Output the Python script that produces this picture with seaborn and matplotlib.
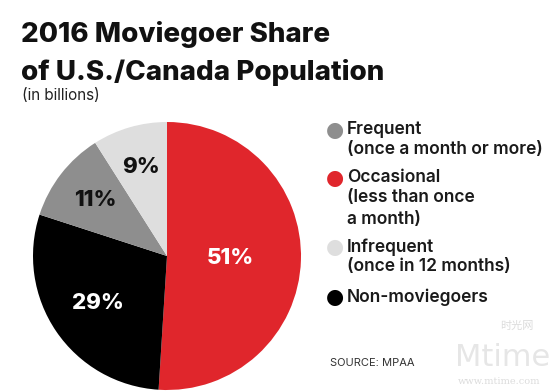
import matplotlib
matplotlib.use("Agg")
import matplotlib.pyplot as plt
import seaborn as sns
import numpy as np

sns.set_theme(style="white")
plt.rcParams['font.family'] = ['Inter', 'DejaVu Sans']

# Data (clockwise from 12 o'clock)
categories = ["Occasional", "Non-moviegoers", "Frequent", "Infrequent"]
shares = [51, 29, 11, 9]
slice_colors = ["#e0262c", "#000000", "#8e8e8e", "#dedede"]
pct_text_colors = ["white", "white", "#111111", "#111111"]
pct_radius = [0.47, 0.62, 0.68, 0.69]

legend_order = ["Frequent", "Occasional", "Infrequent", "Non-moviegoers"]
legend_sub = ["(once a month or more)", "(less than once\na month)", "(once in 12 months)", ""]

title_lines = ["2016 Moviegoer Share", "of U.S./Canada Population"]
subtitle = "(in billions)"
source = "SOURCE: MPAA"

W, H = 549, 392
fig = plt.figure(figsize=(W / 100, H / 100), dpi=100)
fig.patch.set_facecolor("white")

# Pie axes
cx, cy, r = 167, 256, 134
ax = fig.add_axes([(cx - r) / W, (H - cy - r) / H, 2 * r / W, 2 * r / H])
wedges, texts, autotexts = ax.pie(
    shares, colors=slice_colors, startangle=90, counterclock=False,
    autopct=lambda p: f"{p:.0f}%", pctdistance=1.0,
    wedgeprops=dict(linewidth=0),
    textprops=dict(fontsize=16, fontweight="heavy"))
for t, c, rad in zip(autotexts, pct_text_colors, pct_radius):
    x, y = t.get_position()
    t.set_position((x * rad, y * rad))
    t.set_color(c)
ax.set_xlim(-1, 1)
ax.set_ylim(-1, 1)
ax.set_aspect("equal")
ax.axis("off")

# Title
fig.text(21 / W, 1 - 35 / H, title_lines[0], fontsize=20, fontweight="heavy",
         color="#111111", va="center", ha="left")
fig.text(21 / W, 1 - 72 / H, title_lines[1], fontsize=20, fontweight="heavy",
         color="#111111", va="center", ha="left")
fig.text(22 / W, 1 - 96 / H, subtitle, fontsize=11, color="#222222",
         va="center", ha="left")

# Legend
color_map = dict(zip(categories, slice_colors))
row_y = [130, 178, 247, 297]
for name, sub, yy in zip(legend_order, legend_sub, row_y):
    fig.text(335 / W, 1 - yy / H, "\u25CF", fontsize=15, color=color_map[name],
             va="center", ha="center", family="DejaVu Sans")
    fig.text(347 / W, 1 - yy / H, name, fontsize=12.5, fontweight="semibold",
             color="#1a1a1a", va="center", ha="left")
    if sub:
        fig.text(347 / W, 1 - (yy + 11) / H, sub, fontsize=12.5, fontweight="semibold",
                 color="#1a1a1a", va="top", ha="left", linespacing=1.38)

fig.text(330 / W, 1 - 363 / H, source, fontsize=8, color="#333333",
         va="center", ha="left")

# Watermark
fig.text(455 / W, 1 - 358 / H, "Mtime", fontsize=22, color="#e6e6e6",
         va="center", ha="left", family="DejaVu Sans")
fig.text(500 / W, 1 - 326 / H, "时光网", fontsize=8, color="#dcdcdc",
         va="center", ha="left", family=["Noto Sans CJK SC", "DejaVu Sans"])
fig.text(458 / W, 1 - 381 / H, "www.mtime.com", fontsize=7, color="#dcdcdc",
         va="center", ha="left", family="DejaVu Serif")

fig.savefig("out.png", dpi=100, facecolor="white")
